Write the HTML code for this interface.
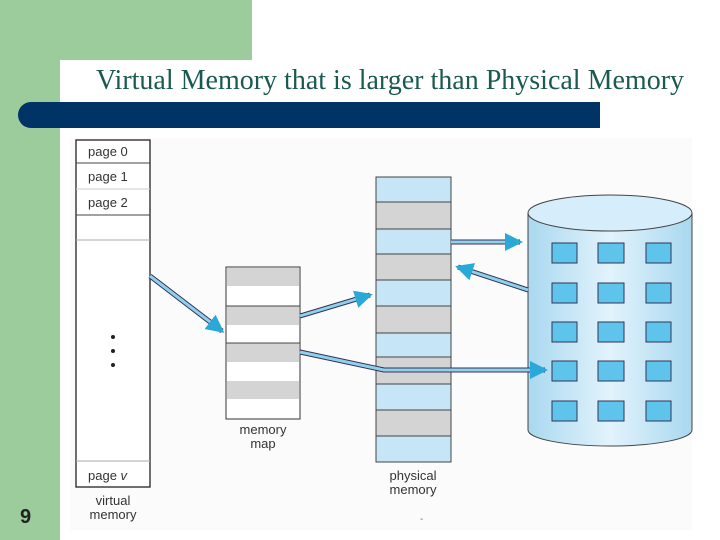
<!DOCTYPE html>
<html><head><style>
body{margin:0;width:720px;height:540px;position:relative;overflow:hidden;background:#fff;font-family:"Liberation Sans",sans-serif}
.a{position:absolute}
</style></head><body>
<div class="a" style="left:0;top:0;width:60px;height:540px;background:#9ccc9c"></div>
<div class="a" style="left:0;top:0;width:252px;height:60px;background:#9ccc9c"></div>
<div class="a" style="left:60px;top:60px;width:30px;height:30px;background:#fff;border-top-left-radius:22px"></div>
<div class="a" style="left:96px;top:65px;font:28px 'Liberation Serif',serif;color:#1a5a50;white-space:nowrap">Virtual Memory that is larger than Physical Memory</div>
<div class="a" style="left:18px;top:102px;width:582px;height:26px;background:#003366;border-radius:13px 0 0 13px"></div>
<div class="a" style="left:20px;top:506px;font:bold 20px 'Liberation Sans',sans-serif;color:#222">9</div>
<div class="a" style="left:70px;top:138px;width:622px;height:392px;background:#fbfbfb"></div>
<svg class="a" style="left:0;top:0" width="720" height="540" font-family="Liberation Sans, sans-serif" font-size="13" fill="#333">
<defs>
<linearGradient id="cyl" x1="0" x2="1"><stop offset="0" stop-color="#a9d8f0"/><stop offset="0.5" stop-color="#e2f3fc"/><stop offset="1" stop-color="#a9d8f0"/></linearGradient>
<marker id="ah" markerWidth="6" markerHeight="6" refX="5" refY="3" orient="auto"><path d="M0,0L6,3L0,6z" fill="#2aa8d8"/></marker>
</defs>
<rect x="76" y="140" width="74" height="347" fill="#fff" stroke="#222" stroke-width="1.3"/>
<g stroke="#444" stroke-width="1"><line x1="76" y1="163" x2="150" y2="163"/><line x1="76" y1="189" x2="150" y2="189" stroke="#ccc"/><line x1="76" y1="215" x2="150" y2="215"/><line x1="76" y1="240" x2="150" y2="240" stroke="#aaa"/><line x1="76" y1="461" x2="150" y2="461" stroke="#aaa"/></g>
<text x="88" y="156">page 0</text><text x="88" y="181">page 1</text><text x="88" y="207">page 2</text>
<text x="88" y="480">page <tspan font-style="italic">v</tspan></text>
<circle cx="113" cy="337" r="2" fill="#222"/><circle cx="113" cy="351" r="2" fill="#222"/><circle cx="113" cy="365" r="2" fill="#222"/>
<text x="113" y="505" text-anchor="middle">virtual</text><text x="113" y="519" text-anchor="middle">memory</text>
<rect x="226" y="267" width="74" height="152" fill="#fff" stroke="#333"/>
<g fill="#d4d4d4"><rect x="227" y="268" width="72" height="18"/><rect x="227" y="306" width="72" height="19"/><rect x="227" y="343" width="72" height="19"/><rect x="227" y="381" width="72" height="18"/></g>
<g stroke="#444"><line x1="226" y1="306" x2="300" y2="306"/><line x1="226" y1="343" x2="300" y2="343"/></g>
<text x="263" y="434" text-anchor="middle">memory</text><text x="263" y="448" text-anchor="middle">map</text>
<rect x="376" y="177" width="75" height="285" fill="#c6e6f8" stroke="#444"/>
<g fill="#d4d4d4" stroke="#444"><rect x="376" y="202" width="75" height="27"/><rect x="376" y="254" width="75" height="26"/><rect x="376" y="306" width="75" height="27"/><rect x="376" y="357" width="75" height="27"/><rect x="376" y="410" width="75" height="26"/></g>
<text x="413" y="480" text-anchor="middle">physical</text><text x="413" y="494" text-anchor="middle">memory</text>
<path d="M528,213 L528,430 A82,16 0 0 0 692,430 L692,213" fill="url(#cyl)" stroke="#444"/>
<ellipse cx="610" cy="213" rx="82" ry="18" fill="#d6eefb" stroke="#444"/>
<g fill="#5fc4ec" stroke="#335"><rect x="552" y="243" width="25" height="20"/><rect x="598" y="243" width="26" height="20"/><rect x="646" y="243" width="25" height="20"/>
<rect x="552" y="283" width="25" height="20"/><rect x="598" y="283" width="26" height="20"/><rect x="646" y="283" width="25" height="20"/>
<rect x="552" y="322" width="25" height="20"/><rect x="598" y="322" width="26" height="20"/><rect x="646" y="322" width="25" height="20"/>
<rect x="552" y="361" width="25" height="20"/><rect x="598" y="361" width="26" height="20"/><rect x="646" y="361" width="25" height="20"/>
<rect x="552" y="401" width="25" height="20"/><rect x="598" y="401" width="26" height="20"/><rect x="646" y="401" width="25" height="20"/></g>
<g fill="none" stroke-linecap="butt">
<g stroke="#335" stroke-width="5"><path d="M150,276 L222,331"/><path d="M300,316 L370,295"/><path d="M300,352 L384,370 L545,370"/><path d="M451,242 L520,242"/><path d="M528,290 L458,267"/></g>
<g stroke="#8fd0ef" stroke-width="3" marker-end="url(#ah)"><path d="M150,276 L222,331"/><path d="M300,316 L370,295"/><path d="M300,352 L384,370 L545,370"/><path d="M451,242 L520,242"/><path d="M528,290 L458,267"/></g>
</g>
<text x="420" y="522" font-size="10" fill="#777">-</text>
</svg>
</body></html>
